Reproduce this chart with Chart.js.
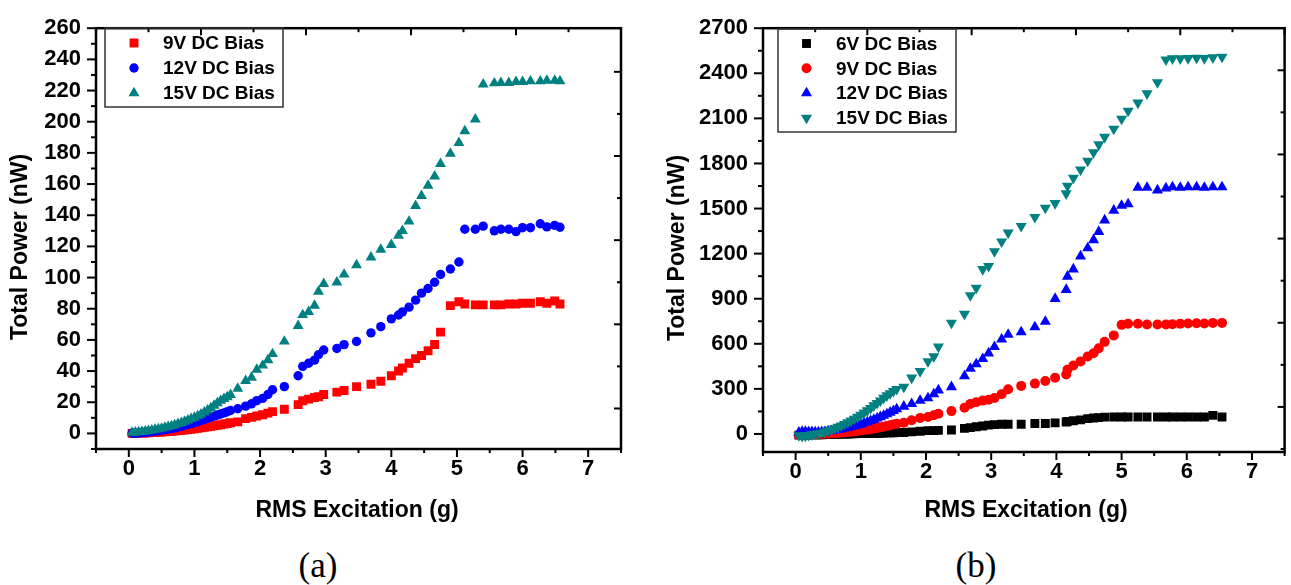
<!DOCTYPE html>
<html>
<head>
<meta charset="utf-8">
<script src="https://cdn.jsdelivr.net/npm/chart.js@4.4.1/dist/chart.umd.min.js"></script>
<style>
  html, body { margin: 0; padding: 0; background: #fff; }
  body { width: 1291px; height: 585px; position: relative; overflow: hidden; }
  canvas { position: absolute; top: 0; }
  #chartA { left: 0; }
  #chartB { left: 645px; }
  .panel-label {
    position: absolute; top: 565px; transform: translate(-50%, -50%);
    font-family: 'Liberation Serif', 'Times New Roman', serif; font-size: 35px; line-height: 1;
  }
</style>
</head>
<body>
<canvas id="chartA" width="645" height="540"></canvas>
<canvas id="chartB" width="646" height="540"></canvas>
<div class="panel-label" style="left:318px">(a)</div>
<div class="panel-label" style="left:976px">(b)</div>
<script>
// ---- panel (a): total power vs RMS excitation, three bias voltages ----
const excitationA = [
  0.05, 0.10, 0.15, 0.20, 0.25, 0.30, 0.35, 0.40, 0.45, 0.50, 0.55, 0.60, 0.65, 0.70, 0.75, 0.80,
  0.85, 0.90, 0.95, 1.00, 1.05, 1.10, 1.15, 1.20, 1.25, 1.30, 1.35, 1.40, 1.45, 1.50, 1.55,
  1.66, 1.78, 1.87, 1.95, 2.04, 2.12, 2.19, 2.37, 2.58, 2.65, 2.74, 2.83, 2.89, 2.97,
  3.17, 3.28, 3.47, 3.69, 3.84, 4.00, 4.11, 4.17, 4.27, 4.37, 4.46, 4.56, 4.66, 4.75, 4.90,
  5.03, 5.12, 5.28, 5.40, 5.57, 5.67, 5.79, 5.90, 6.00, 6.12, 6.27, 6.37, 6.49, 6.57
];
const power9VA = [
  0, 0.1, 0.1, 0.2, 0.3, 0.4, 0.5, 0.6, 0.8, 0.9, 1.0, 1.2, 1.4, 1.6, 1.8, 2.0,
  2.2, 2.5, 2.7, 3.0, 3.3, 3.6, 3.9, 4.2, 4.5, 4.9, 5.2, 5.6, 6.0, 6.3, 6.8,
  7.4, 9.5, 10.3, 11.2, 12.0, 13.0, 14.0, 15.5, 18.5, 21, 22, 23, 23.5, 25,
  26.5, 27.5, 30, 31.5, 33.5, 37, 40, 42, 45, 48, 50, 53, 57, 65, 82,
  84.5, 83, 82.5, 82.5, 82.5, 82.5, 83, 83, 83.5, 83.5, 84.5, 83.5, 85, 83
];
const power12VA = [
  0.1, 0.2, 0.3, 0.5, 0.7, 0.9, 1.1, 1.4, 1.7, 2.0, 2.4, 2.8, 3.2, 3.6, 4.1, 4.6,
  5.1, 5.7, 6.3, 6.9, 7.6, 8.3, 9.0, 9.7, 10.4, 11.1, 11.8, 12.5, 13.2, 13.9, 14.7,
  15.8, 17.5, 19, 21, 22.5, 25, 28, 30, 37, 43, 45, 47, 50.5, 53.5,
  54.5, 57, 59, 64.5, 68.5, 73.5, 76, 78, 81, 85.5, 90, 93, 97, 102, 105.5,
  110, 131, 131, 133, 130, 131, 131, 129.5, 132, 132, 134.5, 132.5, 133.5, 132.3
];
const power15VA = [
  0.5, 0.7, 0.9, 1.1, 1.4, 1.7, 2.0, 2.4, 2.8, 3.2, 3.7, 4.2, 4.8, 5.4, 6.1, 6.8,
  7.6, 8.4, 9.3, 10.2, 11.2, 12.3, 13.5, 14.8, 16.2, 17.8, 19.5, 21.0, 22.2, 23.3, 24.8,
  28.8, 33.7, 35.8, 41, 43.6, 47, 51, 59, 69, 76, 78, 82, 91, 96,
  97, 102, 108, 113, 118, 121, 127, 130, 136, 146, 152.5, 159, 165, 173, 179.5,
  186.5, 194, 201.5, 224, 224.7, 225, 225, 225.6, 225.6, 226, 226, 226.4, 226.4, 226
];

// ---- panel (b): same measurement, four bias voltages ----
const excitationB = [
  0.05, 0.10, 0.15, 0.20, 0.25, 0.30, 0.35, 0.40, 0.45, 0.50, 0.55, 0.60, 0.65, 0.70, 0.75, 0.80,
  0.85, 0.90, 0.95, 1.00, 1.05, 1.10, 1.15, 1.20, 1.25, 1.30, 1.35, 1.40, 1.45, 1.50, 1.55,
  1.66, 1.78, 1.91, 2.03, 2.12, 2.19, 2.39, 2.59, 2.68, 2.77, 2.87, 2.96,
  3.05, 3.16, 3.26, 3.46, 3.67, 3.83, 3.98, 4.15, 4.17, 4.26, 4.37, 4.48, 4.57, 4.65, 4.74, 4.88,
  5.00, 5.10, 5.25, 5.39, 5.55, 5.68, 5.78, 5.90, 6.02, 6.15, 6.27, 6.40, 6.54
];
const power6VB = [
  -8, -8, -7, -7, -6, -6, -5, -5, -4, -4, -3, -3, -2, -1, 0, 0,
  1, 1, 2, 2, 3, 3, 4, 4, 5, 5, 6, 7, 7, 8, 9,
  10, 14, 18, 22, 22, 24, 26, 37, 42, 48, 53, 59,
  62, 65, 65, 65, 70, 70, 74, 80, 84, 88, 94, 102, 106, 109, 112, 113,
  113, 113, 113, 113, 113, 113, 113, 113, 113, 113, 113, 124, 113
];
const power9VB = [
  -5, -5, -4, -3, -2, -1, 0, 1, 2, 3, 4, 6, 7, 9, 11, 13,
  15, 17, 20, 23, 26, 29, 32, 36, 40, 44, 48, 53, 58, 63, 68,
  74, 91, 107, 113, 124, 135, 152, 174, 200, 211, 222, 228,
  239, 265, 298, 320, 335, 352, 374, 396, 428, 456, 483, 515, 537, 570, 613, 656,
  726, 733, 733, 728, 728, 728, 730, 733, 735, 737, 735, 739, 739
];
const power12VB = [
  10, 15, 15, 14, 13, 12, 12, 13, 14, 18, 21, 24, 28, 32, 37, 42,
  47, 53, 59, 65, 72, 79, 87, 95, 104, 113, 122, 132, 143, 154, 165,
  183, 200, 222, 239, 265, 291, 313, 385, 435, 465, 500, 537,
  580, 630, 661, 678, 711, 748, 900, 960, 1048, 1096, 1183, 1237, 1291, 1346, 1422, 1487,
  1520, 1530, 1639, 1639, 1622, 1635, 1643, 1639, 1643, 1643, 1639, 1643, 1643
];
const power15VB = [
  -10, -15, -12, -8, -4, 0, 4, 9, 15, 22, 29, 37, 46, 55, 65, 76,
  88, 100, 113, 127, 141, 156, 172, 189, 205, 222, 240, 256, 270, 285, 298,
  313, 374, 417, 483, 515, 580, 739, 798, 922, 972, 1096, 1117,
  1215, 1280, 1339, 1383, 1443, 1504, 1535, 1600, 1650, 1704, 1759, 1817, 1874, 1926, 1976, 2030,
  2096, 2150, 2204, 2265, 2339, 2491, 2498, 2498, 2500, 2502, 2500, 2505, 2509
];

// tick labels
const excitationTicks = [0, 1, 2, 3, 4, 5, 6, 7];
const powerTicksA = [0, 20, 40, 60, 80, 100, 120, 140, 160, 180, 200, 220, 240, 260];
const powerTicksB = [0, 300, 600, 900, 1200, 1500, 1800, 2100, 2400, 2700];

const FONT = "'Liberation Sans', Arial, Helvetica, sans-serif";

function points(xs, ys) {
  return xs.map((x, i) => ({ x: x, y: ys[i] }));
}

function marker(label, xs, ys, color, style, radius, rotation, order) {
  return {
    label: label,
    data: points(xs, ys),
    backgroundColor: color,
    borderColor: color,
    borderWidth: 0,
    pointStyle: style,
    pointRadius: radius,
    pointHoverRadius: radius,
    pointRotation: rotation,
    order: order
  };
}

// frame with Origin-style ticks, axis titles and boxed legend
const panelFrame = {
  id: 'panelFrame',
  afterDatasetsDraw(chart, args, opts) {
    const { ctx, chartArea: a, scales: { x, y } } = chart;
    const line = (x1, y1, x2, y2) => { ctx.beginPath(); ctx.moveTo(x1, y1); ctx.lineTo(x2, y2); ctx.stroke(); };
    ctx.save();
    ctx.strokeStyle = '#000';

    // bottom axis: majors on tick labels, minors halfway
    ctx.lineWidth = 2;
    const xs = x.ticks.map(t => t.value);
    const xHalf = (xs[1] - xs[0]) / 2;
    for (let v = xs[0] - xHalf, i = 0; v <= x.max + 1e-9; v = xs[0] - xHalf + (++i) * xHalf) {
      if (v < x.min - 1e-9) continue;
      const px = x.getPixelForValue(v);
      line(px, a.bottom, px, a.bottom + (i % 2 === 1 ? 8 : 4));
    }
    // left axis
    const ys = y.ticks.map(t => t.value);
    const yHalf = (ys[1] - ys[0]) / 2;
    for (let v = ys[0] - yHalf, i = 0; v <= y.max + 1e-9; v = ys[0] - yHalf + (++i) * yHalf) {
      if (v < y.min - 1e-9) continue;
      const py = y.getPixelForValue(v);
      line(a.left, py, a.left - (i % 2 === 1 ? 9 : 5), py);
    }
    // top border: inward ticks
    for (let i = 0; ; i++) {
      const v = opts.topStart + i * opts.topStep;
      if (v > x.max) break;
      const px = x.getPixelForValue(v);
      line(px, a.top, px, a.top + (i % 2 === 1 ? 7 : 4));
    }
    // right border: inward ticks
    for (let i = 0; ; i++) {
      const v = opts.rightStart - i * opts.rightStep;
      if (v < y.min) break;
      const py = y.getPixelForValue(v);
      line(a.right, py, a.right - (i % 2 === 0 ? 7 : 4), py);
    }

    ctx.lineWidth = 2.5;
    ctx.strokeRect(a.left, a.top, a.right - a.left, a.bottom - a.top);

    // axis titles
    ctx.fillStyle = '#000';
    ctx.font = 'bold 23px ' + FONT;
    ctx.textAlign = 'center';
    ctx.textBaseline = 'middle';
    ctx.fillText(opts.xTitle, opts.xTitlePos[0], opts.xTitlePos[1]);
    ctx.save();
    ctx.translate(opts.yTitlePos[0], opts.yTitlePos[1]);
    ctx.rotate(-Math.PI / 2);
    ctx.fillText(opts.yTitle, 0, 0);
    ctx.restore();

    // legend
    const lg = opts.legend;
    ctx.lineWidth = 1.5;
    ctx.strokeStyle = '#333';
    ctx.strokeRect(lg.left, lg.top, lg.width, lg.height);
    ctx.font = 'bold 19px ' + FONT;
    ctx.textAlign = 'left';
    chart.data.datasets.forEach((ds, i) => {
      const ry = lg.firstRow + i * lg.rowGap;
      ctx.fillStyle = ds.backgroundColor;
      Chart.helpers.drawPoint(ctx, {
        pointStyle: ds.pointStyle, rotation: ds.pointRotation, radius: ds.pointRadius, borderWidth: 0
      }, lg.markerX, ry);
      ctx.fillStyle = '#000';
      ctx.fillText(ds.label, lg.textX, ry + 1);
    });
    ctx.restore();
  }
};

function makeChart(id, datasets, cfg) {
  const tickFont = { family: FONT, size: 22, weight: 'bold' };
  return new Chart(document.getElementById(id), {
    type: 'scatter',
    data: { datasets: datasets },
    options: {
      responsive: false,
      animation: false,
      devicePixelRatio: 1,
      layout: { padding: { top: cfg.padTop, right: cfg.padRight, left: 0, bottom: 0 } },
      plugins: { legend: { display: false }, tooltip: { enabled: false }, panelFrame: cfg.frame },
      scales: {
        x: {
          type: 'linear', min: -0.5, max: 7.5,
          afterBuildTicks: s => { s.ticks = excitationTicks.map(v => ({ value: v })); },
          afterFit: s => { s.height = cfg.xHeight; },
          grid: { display: false, drawTicks: false },
          border: { display: false },
          ticks: { autoSkip: false, maxRotation: 0, padding: 7, color: '#000', font: tickFont,
                   callback: v => String(v) }
        },
        y: {
          type: 'linear', min: cfg.yMin, max: cfg.yMax,
          afterBuildTicks: s => { s.ticks = cfg.yTicks.map(v => ({ value: v })); },
          afterFit: s => { s.width = cfg.yWidth; },
          grid: { display: false, drawTicks: false },
          border: { display: false },
          ticks: { autoSkip: false, padding: 15, color: '#000', font: tickFont,
                   callback: v => String(v) }
        }
      }
    },
    plugins: [panelFrame]
  });
}

makeChart('chartA', [
  marker('9V DC Bias', excitationA, power9VA, '#ff0000', 'rect', 6.3, 0, 2),
  marker('12V DC Bias', excitationA, power12VA, '#0000ff', 'circle', 4.7, 0, 1),
  marker('15V DC Bias', excitationA, power15VA, '#008080', 'triangle', 6.3, 0, 0)
], {
  padTop: 19, padRight: 24, xHeight: 91, yWidth: 96,
  yMin: -10, yMax: 260, yTicks: powerTicksA,
  frame: {
    topStart: 0.3, topStep: 0.8, rightStart: 232, rightStep: 27,
    xTitle: 'RMS Excitation (g)', xTitlePos: [357, 511],
    yTitle: 'Total Power (nW)', yTitlePos: [21, 247],
    legend: { left: 105, top: 28, width: 178, height: 79, firstRow: 43, rowGap: 25, markerX: 134, textX: 163 }
  }
});

makeChart('chartB', [
  marker('6V DC Bias', excitationB, power6VB, '#000000', 'rect', 6.3, 0, 3),
  marker('9V DC Bias', excitationB, power9VB, '#ff0000', 'circle', 5, 0, 2),
  marker('12V DC Bias', excitationB, power12VB, '#0000ff', 'triangle', 6.4, 0, 1),
  marker('15V DC Bias', excitationB, power15VB, '#008080', 'triangle', 6.4, 180, 0)
], {
  padTop: 20, padRight: 3, xHeight: 88, yWidth: 118,
  yMin: -120, yMax: 2700, yTicks: powerTicksB,
  frame: {
    topStart: 0.3, topStep: 0.8, rightStart: 2420, rightStep: 280,
    xTitle: 'RMS Excitation (g)', xTitlePos: [381, 511],
    yTitle: 'Total Power (nW)', yTitlePos: [33, 248],
    legend: { left: 133, top: 29, width: 178, height: 103, firstRow: 43.5, rowGap: 24.8, markerX: 161.5, textX: 191 }
  }
});
</script>
</body>
</html>
